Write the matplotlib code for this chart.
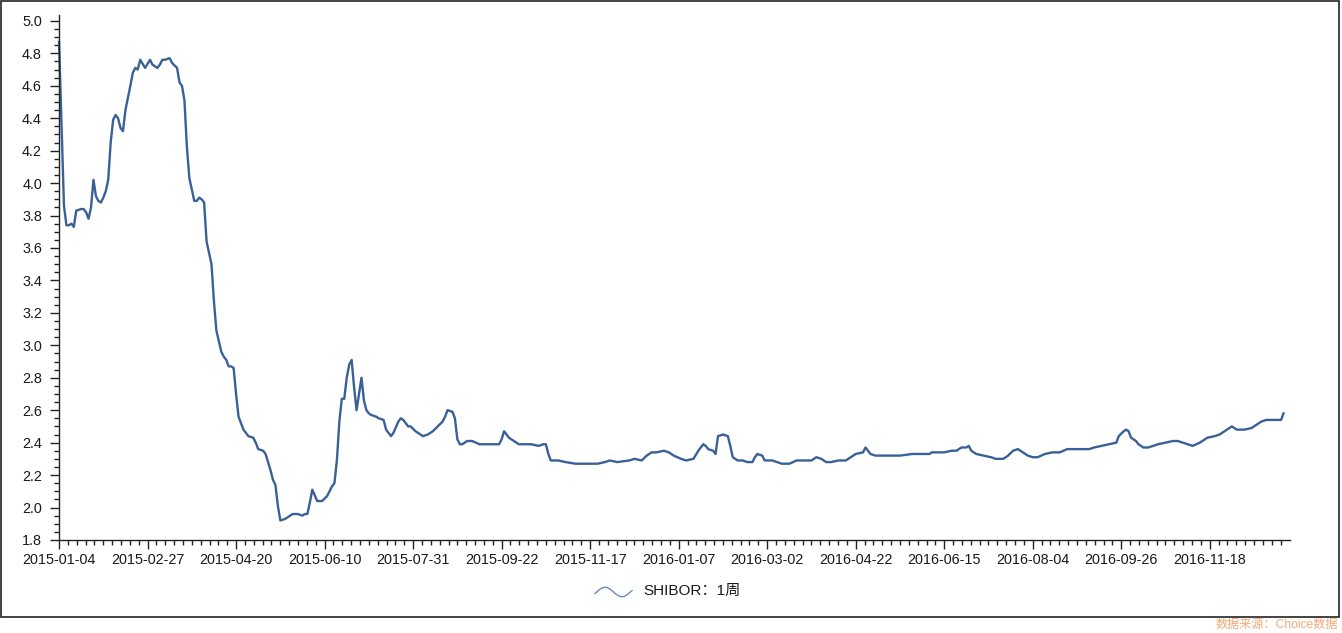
import numpy as np
import matplotlib
matplotlib.use("Agg")
import matplotlib.pyplot as plt
from matplotlib.lines import Line2D
from matplotlib.patches import Rectangle

plt.rcParams['font.family'] = ['Liberation Sans', 'Noto Sans CJK SC', 'DejaVu Sans']

# trading day number counted from 2015-01-04, and SHIBOR 1 week (%)
day = [0, 2, 3, 4, 5, 6, 7, 9, 10, 11, 12, 13, 14, 15, 16, 17, 18, 19, 20, 21,
       22, 23, 24, 25, 26, 27, 29, 30, 31, 32, 33, 35, 37, 38, 40, 41, 42, 43, 45, 46,
       48, 49, 50, 51, 52, 53, 55, 56, 57, 58, 59, 60, 62, 63, 64, 66, 67, 68, 69, 70,
       71, 72, 73, 75, 77, 79, 80, 81, 83, 84, 86, 87, 88, 89, 90, 92, 94, 95, 97, 99,
       100, 101, 102, 103, 105, 107, 109, 110, 111, 112, 113, 114, 115, 116, 117, 118, 119, 120, 121, 122,
       123, 124, 125, 126, 127, 129, 130, 132, 133, 134, 135, 136, 138, 139, 140, 142, 143, 145, 148, 150,
       152, 154, 156, 157, 158, 160, 161, 162, 163, 164, 166, 168, 171, 173, 175, 177, 179, 180, 181, 183,
       185, 187, 190, 192, 195, 197, 198, 199, 200, 203, 206, 210, 215, 219, 222, 224, 227, 232, 234, 237,
       239, 241, 243, 246, 248, 250, 253, 255, 258, 260, 262, 263, 264, 266, 267, 268, 270, 272, 273, 274,
       276, 278, 280, 282, 283, 284, 286, 287, 290, 292, 294, 297, 300, 303, 306, 308, 310, 312, 314, 317,
       320, 322, 324, 327, 328, 330, 332, 335, 338, 342, 347, 349, 354, 355, 360, 363, 365, 367, 369, 370,
       371, 373, 376, 379, 381, 384, 386, 388, 390, 392, 394, 396, 398, 401, 404, 407, 410, 413, 415, 419,
       421, 424, 427, 430, 431, 433, 434, 435, 436, 438, 439, 441, 443, 445, 447, 450, 453, 455, 457, 459,
       461, 464, 467, 470, 472, 474, 476, 477, 479, 482, 485, 487, 489, 491, 494, 497, 498]
shibor = [4.87, 3.86, 3.74, 3.74, 3.75, 3.73, 3.83, 3.84, 3.84, 3.82, 3.78, 3.85, 4.02, 3.92, 3.89, 3.88, 3.91, 3.95, 4.02, 4.25,
          4.39, 4.42, 4.40, 4.34, 4.32, 4.45, 4.60, 4.68, 4.71, 4.70, 4.76, 4.71, 4.76, 4.73, 4.71, 4.73, 4.76, 4.76, 4.77, 4.74,
          4.71, 4.62, 4.60, 4.51, 4.22, 4.03, 3.89, 3.89, 3.91, 3.90, 3.88, 3.64, 3.50, 3.27, 3.09, 2.96, 2.93, 2.91, 2.87, 2.87,
          2.86, 2.70, 2.56, 2.48, 2.44, 2.43, 2.40, 2.36, 2.35, 2.33, 2.23, 2.17, 2.14, 2.01, 1.92, 1.93, 1.95, 1.96, 1.96, 1.95,
          1.96, 1.96, 2.03, 2.11, 2.04, 2.04, 2.07, 2.10, 2.13, 2.15, 2.29, 2.53, 2.67, 2.67, 2.80, 2.88, 2.91, 2.74, 2.60, 2.70,
          2.80, 2.66, 2.60, 2.58, 2.57, 2.56, 2.55, 2.54, 2.48, 2.46, 2.44, 2.46, 2.53, 2.55, 2.54, 2.50, 2.50, 2.47, 2.44, 2.45,
          2.47, 2.50, 2.53, 2.56, 2.60, 2.59, 2.55, 2.42, 2.39, 2.39, 2.41, 2.41, 2.39, 2.39, 2.39, 2.39, 2.39, 2.42, 2.47, 2.43,
          2.41, 2.39, 2.39, 2.39, 2.38, 2.39, 2.39, 2.33, 2.29, 2.29, 2.28, 2.27, 2.27, 2.27, 2.28, 2.29, 2.28, 2.29, 2.30, 2.29,
          2.32, 2.34, 2.34, 2.35, 2.34, 2.32, 2.30, 2.29, 2.30, 2.35, 2.39, 2.38, 2.36, 2.35, 2.33, 2.44, 2.45, 2.44, 2.38, 2.31,
          2.29, 2.29, 2.28, 2.28, 2.31, 2.33, 2.32, 2.29, 2.29, 2.28, 2.27, 2.27, 2.29, 2.29, 2.29, 2.31, 2.30, 2.28, 2.28, 2.29,
          2.29, 2.31, 2.33, 2.34, 2.37, 2.33, 2.32, 2.32, 2.32, 2.32, 2.33, 2.33, 2.33, 2.34, 2.34, 2.35, 2.35, 2.37, 2.37, 2.38,
          2.35, 2.33, 2.32, 2.31, 2.30, 2.30, 2.32, 2.35, 2.36, 2.34, 2.32, 2.31, 2.31, 2.33, 2.34, 2.34, 2.36, 2.36, 2.36, 2.36,
          2.37, 2.38, 2.39, 2.40, 2.44, 2.47, 2.48, 2.47, 2.43, 2.41, 2.39, 2.37, 2.37, 2.38, 2.39, 2.40, 2.41, 2.41, 2.40, 2.39,
          2.38, 2.40, 2.43, 2.44, 2.45, 2.47, 2.49, 2.50, 2.48, 2.48, 2.49, 2.51, 2.53, 2.54, 2.54, 2.54, 2.58]

tick_labels = ['2015-01-04', '2015-02-27', '2015-04-20', '2015-06-10', '2015-07-31',
               '2015-09-22', '2015-11-17', '2016-01-07', '2016-03-02', '2016-04-22',
               '2016-06-15', '2016-08-04', '2016-09-26', '2016-11-18']
tick_step = 36  # trading days between labels

line_color = '#3a6197'

fig = plt.figure(figsize=(13.42, 6.33), dpi=100)
ax = fig.add_axes([0.044, 0.147, 0.917, 0.829])

ax.plot(day, shibor, color=line_color, lw=1.7, solid_joinstyle='round', clip_on=False)

ax.set_xlim(0, 500.5)
ax.set_ylim(1.8, 5.035)

major_x = np.arange(len(tick_labels)) * tick_step
ax.set_xticks(major_x)
ax.set_xticklabels(tick_labels)
ax.set_xticks(np.arange(0, 498.5, tick_step / 10), minor=True)
ax.set_yticks(np.arange(1.8, 5.01, 0.2))
ax.set_yticklabels([f'{v:.1f}' for v in np.arange(1.8, 5.01, 0.2)])
ax.set_yticks(np.arange(1.8, 5.01, 0.05), minor=True)

ax.tick_params(which='major', length=6.3, width=1, color='#222222', labelsize=10.4,
               labelcolor='#1a1a1a')
ax.tick_params(which='minor', length=3.6, width=1, color='#222222')
ax.tick_params(axis='y', which='major', pad=6)
ax.tick_params(axis='x', which='major', pad=3)

for side in ['top', 'right']:
    ax.spines[side].set_visible(False)
for side in ['left', 'bottom']:
    ax.spines[side].set_color('#222222')
    ax.spines[side].set_linewidth(1)

# legend: small wave + label under the axis
W, H = 1342.0, 633.0
t = np.linspace(0, 1, 60)
wx = (595 + 37 * t) / W
wy = 1 - (592 - 4.7 * np.sin(2 * np.pi * (1.1 * t - 0.05))) / H
fig.add_artist(Line2D(wx, wy, color='#6a8ab8', lw=1.0, transform=fig.transFigure))
fig.text(643 / W, 1 - 591 / H, 'SHIBOR：1周', fontsize=11, color='#1a1a1a',
         ha='left', va='center')

# outer frame and source note
fig.add_artist(Rectangle((1 / W, 1 - 617 / H), 1338 / W, 616 / H, fill=False,
                         edgecolor='#222222', lw=1.2, transform=fig.transFigure))
fig.text(1338 / W, 1 - 625 / H, '数据来源：Choice数据', fontsize=8.7, color='#f6a878',
         ha='right', va='center')

fig.savefig('out.png', dpi=100)
